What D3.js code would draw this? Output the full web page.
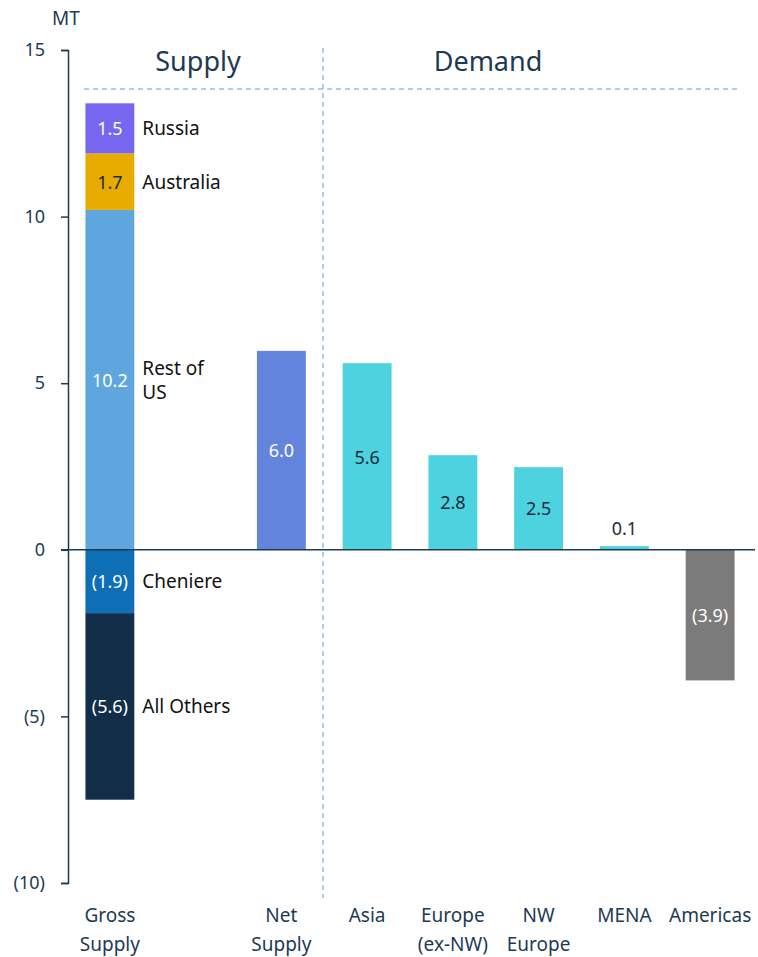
<!DOCTYPE html>
<html>
<head>
<meta charset="utf-8">
<script src="https://cdn.jsdelivr.net/npm/d3@7"></script>
<style>
  body { margin: 0; background: #fff; }
  svg text { font-family: "Noto Sans", "Open Sans", sans-serif; }
</style>
</head>
<body>
<div id="chart"></div>
<script>
// DATA (gross supply segments listed from the zero line outwards)
const categories = ['Gross Supply', '', 'Net Supply', 'Asia', 'Europe (ex-NW)', 'NW Europe', 'MENA', 'Americas'];
const category_lines = [['Gross', 'Supply'], [], ['Net', 'Supply'], ['Asia'], ['Europe', '(ex-NW)'], ['NW', 'Europe'], ['MENA'], ['Americas']];

const supply_names = ['Rest of US', 'Australia', 'Russia', 'Cheniere', 'All Others'];
const supply_values = [10.2, 1.7, 1.5, -1.9, -5.6];
const supply_labels = ['10.2', '1.7', '1.5', '(1.9)', '(5.6)'];

const single_names = ['Net Supply', 'Asia', 'Europe (ex-NW)', 'NW Europe', 'MENA', 'Americas'];
const single_values = [5.97, 5.6, 2.84, 2.48, 0.11, -3.92];
const single_labels = ['6.0', '5.6', '2.8', '2.5', '0.1', '(3.9)'];

const y_ticks = [15, 10, 5, 0, -5, -10];
const y_tick_labels = ['15', '10', '5', '0', '(5)', '(10)'];

// CONFIG
const width = 758, height = 957;
const supply_colors = ['#5fa6de', '#e8ac00', '#7766f0', '#0f6fb6', '#132e48'];
const supply_text = ['#fff', '#1c2b3a', '#fff', '#fff', '#fff'];
const single_colors = ['#6284dc', '#4dd3df', '#4dd3df', '#4dd3df', '#4dd3df', '#7b7b7b'];
const single_text = ['#fff', '#1c2b3a', '#1c2b3a', '#1c2b3a', '#1c2b3a', '#fff'];
const navy = '#1d3a55';
const dash_color = '#8ec1e9';

const svg = d3.select('#chart').append('svg')
    .attr('width', width)
    .attr('height', height);

const y_scale = d3.scaleLinear().domain([-10, 15]).range([883, 50]);
const x_scale = d3.scaleBand().domain(categories).range([67, 753])
    .paddingInner(0.43).paddingOuter(0.215);
const bw = x_scale.bandwidth();

// header
svg.append('text').attr('x', 52).attr('y', 25).attr('font-size', 19).attr('fill', navy).text('MT');
svg.append('line')
    .attr('x1', 84).attr('x2', 740).attr('y1', 89).attr('y2', 89)
    .attr('stroke', dash_color).attr('stroke-width', 1.5).attr('stroke-dasharray', '5,4');
svg.append('line')
    .attr('x1', 323).attr('x2', 323).attr('y1', 48).attr('y2', 898)
    .attr('stroke', dash_color).attr('stroke-width', 1.5).attr('stroke-dasharray', '5,4');
svg.append('text').attr('x', 198).attr('y', 71).attr('text-anchor', 'middle')
    .attr('font-size', 27).attr('fill', navy).text('Supply');
svg.append('text').attr('x', 488).attr('y', 71).attr('text-anchor', 'middle')
    .attr('font-size', 27).attr('fill', navy).text('Demand');

// stacked gross supply
let pos = 0, neg = 0;
const stack = supply_values.map((v, i) => {
    let y0, y1;
    if (v >= 0) { y0 = pos; y1 = pos + v; pos = y1; }
    else { y0 = neg; y1 = neg + v; neg = y1; }
    return { name: supply_names[i], v, y0, y1, label: supply_labels[i], color: supply_colors[i], tc: supply_text[i] };
});

const gx = x_scale('Gross Supply');
svg.selectAll('.seg').data(stack).enter().append('rect')
    .attr('class', 'seg')
    .attr('x', gx).attr('width', bw)
    .attr('y', d => y_scale(Math.max(d.y0, d.y1)))
    .attr('height', d => Math.abs(y_scale(d.y0) - y_scale(d.y1)))
    .attr('fill', d => d.color);

svg.selectAll('.seglabel').data(stack).enter().append('text')
    .attr('x', gx + bw / 2)
    .attr('y', d => y_scale((d.y0 + d.y1) / 2) + 7)
    .attr('text-anchor', 'middle').attr('font-size', 18).attr('fill', d => d.tc)
    .text(d => d.label);

const name_lines = { 'Rest of US': ['Rest of', 'US'] };
stack.forEach(d => {
    const lines = name_lines[d.name] || [d.name];
    const cy = y_scale((d.y0 + d.y1) / 2);
    const t = svg.append('text').attr('x', gx + bw + 8).attr('font-size', 19).attr('fill', '#111');
    lines.forEach((l, k) => {
        t.append('tspan').attr('x', gx + bw + 8)
            .attr('y', cy + 7 + (k - (lines.length - 1) / 2) * 24)
            .text(l);
    });
});

// single bars
svg.selectAll('.bar').data(single_values).enter().append('rect')
    .attr('class', 'bar')
    .attr('x', (d, i) => x_scale(single_names[i])).attr('width', bw)
    .attr('y', d => y_scale(Math.max(0, d)))
    .attr('height', d => Math.abs(y_scale(d) - y_scale(0)))
    .attr('fill', (d, i) => single_colors[i]);

svg.selectAll('.barlabel').data(single_values).enter().append('text')
    .attr('x', (d, i) => x_scale(single_names[i]) + bw / 2)
    .attr('y', d => Math.abs(d) < 0.5 ? y_scale(d) - 11 : y_scale(d / 2) + 7)
    .attr('text-anchor', 'middle').attr('font-size', 18)
    .attr('fill', (d, i) => single_text[i])
    .text((d, i) => single_labels[i]);

// y axis
const y_axis = d3.axisLeft(y_scale).tickValues(y_ticks)
    .tickFormat((d, i) => y_tick_labels[i]).tickSize(7).tickSizeOuter(7);
const ya = svg.append('g').attr('transform', 'translate(68,0)').call(y_axis);
ya.selectAll('path, line').attr('stroke', navy).attr('stroke-width', 1.5);
ya.selectAll('text').attr('font-size', 18).attr('fill', navy).attr('x', -23)
    .style('font-family', '"Noto Sans", sans-serif');

// zero line
svg.append('line')
    .attr('x1', 61).attr('x2', 755).attr('y1', y_scale(0)).attr('y2', y_scale(0))
    .attr('stroke', navy).attr('stroke-width', 1.5);

// category labels
categories.forEach((c, i) => {
    const lines = category_lines[i];
    const t = svg.append('text').attr('text-anchor', 'middle').attr('font-size', 19).attr('fill', navy);
    lines.forEach((l, k) => {
        t.append('tspan').attr('x', x_scale(c) + bw / 2).attr('y', 922 + k * 29).text(l);
    });
});
</script>
</body>
</html>
